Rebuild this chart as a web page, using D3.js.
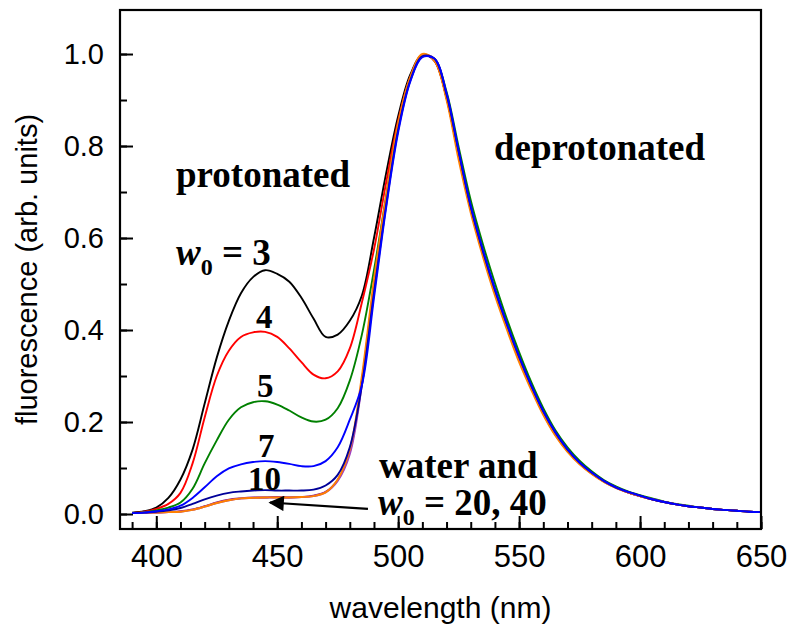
<!doctype html>
<html>
<head>
<meta charset="utf-8">
<title>Fluorescence spectra</title>
<style>
  body { margin: 0; background: #fff; }
  svg { display: block; }
  .tick text { font-family: "Liberation Sans", Arial, sans-serif; fill: #000; }
  .xaxis .tick text { font-size: 31px; }
  .yaxis .tick text { font-size: 29px; }
  .lbl { font-family: "Liberation Serif", "Times New Roman", serif; font-weight: bold; font-size: 37px; fill: #000; }
  .num { font-size: 33px; }
</style>
<script src="https://d3js.org/d3.v7.min.js"></script>
</head>
<body>
<svg width="791" height="628"></svg>
<script>
// wavelength grid (nm)
var wavelengths = [390, 395, 400, 405, 410, 415, 420, 425, 430, 435,
                   440, 445, 450, 455, 460, 465, 470, 475, 480, 485,
                   490, 495, 500, 505, 510, 515, 520, 525, 530, 535,
                   540, 545, 550, 555, 560, 565, 570, 575, 580, 585,
                   590, 595, 600, 605, 610, 615, 620, 625, 630, 635,
                   640, 645, 650];

var w3 = [0.003, 0.006, 0.014, 0.035, 0.075, 0.14, 0.24, 0.34, 0.42, 0.48,
          0.515, 0.53, 0.522, 0.505, 0.47, 0.425, 0.385, 0.39, 0.42, 0.475,
          0.60, 0.74, 0.865, 0.955, 0.998, 0.985, 0.905, 0.78, 0.665, 0.57,
          0.485, 0.41, 0.338, 0.277, 0.22, 0.174, 0.138, 0.11, 0.089, 0.071,
          0.058, 0.047, 0.039, 0.032, 0.026, 0.021, 0.017, 0.014, 0.011, 0.009,
          0.007, 0.005, 0.004];
var w4 = [0.002, 0.005, 0.011, 0.022, 0.046, 0.11, 0.21, 0.30, 0.355, 0.385,
          0.395, 0.396, 0.385, 0.36, 0.33, 0.303, 0.295, 0.31, 0.36, 0.46,
          0.575, 0.72, 0.855, 0.95, 0.998, 0.985, 0.905, 0.78, 0.665, 0.57,
          0.485, 0.41, 0.338, 0.277, 0.22, 0.174, 0.138, 0.11, 0.089, 0.071,
          0.058, 0.047, 0.039, 0.032, 0.026, 0.021, 0.017, 0.014, 0.011, 0.009,
          0.007, 0.005, 0.004];
var w5 = [0.002, 0.004, 0.008, 0.014, 0.025, 0.055, 0.11, 0.16, 0.205, 0.232,
          0.243, 0.245, 0.238, 0.225, 0.21, 0.201, 0.205, 0.23, 0.29, 0.39,
          0.53, 0.69, 0.845, 0.945, 0.995, 0.99, 0.918, 0.798, 0.682, 0.587,
          0.502, 0.423, 0.352, 0.287, 0.23, 0.182, 0.145, 0.116, 0.093, 0.074,
          0.06, 0.049, 0.041, 0.034, 0.027, 0.022, 0.018, 0.014, 0.011, 0.009,
          0.007, 0.005, 0.004];
var w7 = [0.002, 0.003, 0.006, 0.010, 0.018, 0.035, 0.058, 0.082, 0.099, 0.108,
          0.113, 0.115, 0.113, 0.109, 0.104, 0.104, 0.115, 0.145, 0.205, 0.28,
          0.47, 0.665, 0.83, 0.94, 0.993, 0.99, 0.915, 0.79, 0.67, 0.575,
          0.49, 0.413, 0.343, 0.28, 0.224, 0.178, 0.141, 0.112, 0.09, 0.072,
          0.058, 0.048, 0.04, 0.032, 0.026, 0.021, 0.017, 0.014, 0.011, 0.009,
          0.007, 0.005, 0.004];
var w10 = [0.002, 0.003, 0.005, 0.008, 0.013, 0.022, 0.032, 0.040, 0.046, 0.049,
           0.051, 0.052, 0.051, 0.051, 0.051, 0.053, 0.062, 0.085, 0.145, 0.28,
           0.48, 0.67, 0.835, 0.942, 0.995, 0.99, 0.912, 0.788, 0.668, 0.572,
           0.487, 0.412, 0.342, 0.279, 0.223, 0.177, 0.14, 0.112, 0.09, 0.072,
           0.058, 0.048, 0.04, 0.032, 0.026, 0.021, 0.017, 0.014, 0.011, 0.009,
           0.007, 0.005, 0.004];
var water = [0.002, 0.003, 0.003, 0.004, 0.006, 0.010, 0.017, 0.025, 0.031, 0.034,
             0.036, 0.036, 0.037, 0.036, 0.037, 0.040, 0.048, 0.074, 0.135, 0.29,
             0.50, 0.685, 0.845, 0.948, 0.998, 0.987, 0.905, 0.78, 0.662, 0.565,
             0.48, 0.405, 0.335, 0.274, 0.218, 0.172, 0.137, 0.109, 0.088, 0.071,
             0.057, 0.047, 0.039, 0.032, 0.026, 0.021, 0.017, 0.014, 0.011, 0.009,
             0.007, 0.005, 0.004];
var w20 = [0.002, 0.003, 0.003, 0.004, 0.005, 0.009, 0.016, 0.024, 0.030, 0.034,
           0.035, 0.036, 0.036, 0.036, 0.037, 0.039, 0.047, 0.072, 0.13, 0.28,
           0.49, 0.68, 0.84, 0.945, 0.997, 0.99, 0.91, 0.785, 0.665, 0.57,
           0.485, 0.41, 0.34, 0.277, 0.22, 0.174, 0.138, 0.11, 0.088, 0.071,
           0.058, 0.047, 0.039, 0.032, 0.026, 0.021, 0.017, 0.014, 0.011, 0.009,
           0.007, 0.005, 0.004];
var w40 = [0.002, 0.003, 0.003, 0.004, 0.005, 0.009, 0.016, 0.024, 0.030, 0.034,
           0.035, 0.036, 0.036, 0.036, 0.037, 0.039, 0.047, 0.075, 0.14, 0.30,
           0.51, 0.69, 0.85, 0.95, 1.0, 0.985, 0.90, 0.77, 0.655, 0.56,
           0.475, 0.40, 0.33, 0.27, 0.215, 0.17, 0.135, 0.108, 0.087, 0.07,
           0.057, 0.047, 0.039, 0.032, 0.026, 0.021, 0.017, 0.014, 0.011, 0.009,
           0.007, 0.005, 0.004];

var series = [
  {name: "w0=3",  color: "#000000", values: w3},
  {name: "w0=4",  color: "#ff0000", values: w4},
  {name: "w0=5",  color: "#008000", values: w5},
  {name: "water", color: "#800080", values: water},
  {name: "w0=20", color: "#a040c0", values: w20},
  {name: "w0=40", color: "#ff8000", values: w40},
  {name: "w0=10", color: "#000099", values: w10},
  {name: "w0=7",  color: "#0000ff", values: w7}
];

var xTicks = [400, 450, 500, 550, 600, 650];
var yTicks = [0.0, 0.2, 0.4, 0.6, 0.8, 1.0];

var svg = d3.select("svg");
var plotL = 120, plotR = 761, plotT = 10, plotB = 529;

var x = d3.scaleLinear().domain([385, 650]).range([plotL, plotR]);
var y = d3.scaleLinear().domain([-0.0326, 1.0957]).range([plotB, plotT]);

// minor ticks
svg.append("g")
   .attr("transform", "translate(0," + plotB + ")")
   .call(d3.axisBottom(x).tickValues(d3.range(390, 651, 10)).tickSize(-7).tickFormat(""));
svg.append("g")
   .attr("transform", "translate(" + plotL + ",0)")
   .call(d3.axisLeft(y).tickValues(d3.range(0, 1.01, 0.1)).tickSize(-7).tickFormat(""));

// major ticks
svg.append("g")
   .attr("class", "xaxis")
   .attr("transform", "translate(0," + plotB + ")")
   .call(d3.axisBottom(x).tickValues(xTicks).tickSize(-13).tickPadding(16).tickFormat(d3.format("d")));
svg.append("g")
   .attr("class", "yaxis")
   .attr("transform", "translate(" + plotL + ",0)")
   .call(d3.axisLeft(y).tickValues(yTicks).tickSize(-13).tickPadding(16).tickFormat(d3.format(".1f")));

svg.selectAll(".domain").remove();
svg.selectAll(".tick line").attr("stroke", "#000").attr("stroke-width", 2);

// spectra
var line = d3.line()
  .x(function(d, i) { return x(wavelengths[i]); })
  .y(function(d) { return y(d); })
  .curve(d3.curveCatmullRom.alpha(0.5));

svg.append("g").selectAll("path")
  .data(series)
  .enter().append("path")
  .attr("fill", "none")
  .attr("stroke", function(d) { return d.color; })
  .attr("stroke-width", 1.9)
  .attr("d", function(d) { return line(d.values); });

// frame
svg.append("rect")
   .attr("x", plotL).attr("y", plotT)
   .attr("width", plotR - plotL).attr("height", plotB - plotT)
   .attr("fill", "none").attr("stroke", "#000").attr("stroke-width", 2.2);

// axis titles
svg.append("text")
   .attr("x", (plotL + plotR) / 2).attr("y", 618)
   .attr("text-anchor", "middle")
   .style("font-family", "Liberation Sans, Arial, sans-serif").style("font-size", "30px")
   .text("wavelength (nm)");
svg.append("text")
   .attr("transform", "translate(37," + (plotT + plotB) / 2 + ") rotate(-90)")
   .attr("text-anchor", "middle")
   .style("font-family", "Liberation Sans, Arial, sans-serif").style("font-size", "29px")
   .text("fluorescence (arb. units)");

// annotations
function label(px, py, str, cls) {
  return svg.append("text").attr("class", "lbl " + (cls || "")).attr("x", px).attr("y", py).text(str);
}
label(176, 187, "protonated");
label(494, 160, "deprotonated");
label(256, 328, "4", "num");
label(257, 397, "5", "num");
label(258, 457, "7", "num");
label(248, 490, "10", "num");
label(379, 478, "water and");

function wLabel(px, py, rest) {
  var t = svg.append("text").attr("class", "lbl").attr("x", px).attr("y", py);
  t.append("tspan").style("font-style", "italic").text("w");
  t.append("tspan").attr("dy", 10).style("font-size", "24px").text("0");
  t.append("tspan").attr("dy", -10).text(" = " + rest);
}
wLabel(176, 265, "3");
wLabel(378, 515, "20, 40");

// arrow pointing at the lowest curves
svg.append("defs").append("marker")
   .attr("id", "head").attr("viewBox", "0 0 10 10")
   .attr("refX", 9).attr("refY", 5)
   .attr("markerWidth", 8).attr("markerHeight", 7).attr("markerUnits", "strokeWidth")
   .attr("orient", "auto")
   .append("path").attr("d", "M0,0 L10,5 L0,10 z").attr("fill", "#000");
svg.append("line")
   .attr("x1", x(487.5)).attr("y1", y(0.011))
   .attr("x2", x(447)).attr("y2", y(0.025))
   .attr("stroke", "#000").attr("stroke-width", 2.2)
   .attr("marker-end", "url(#head)");
</script>
</body>
</html>
